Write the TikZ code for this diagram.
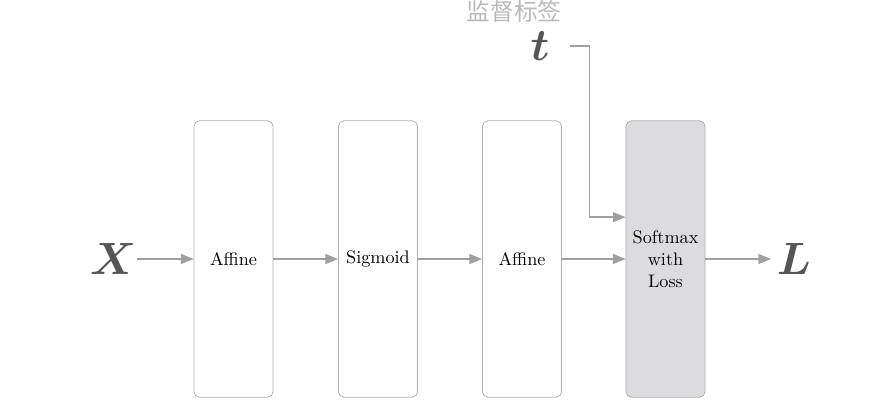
\documentclass[tikz,border=0pt]{standalone}
\usepackage{amsmath,amssymb,bm}
\usepackage{fontspec}
\newfontfamily\cjk{Noto Sans CJK SC}
\usetikzlibrary{positioning,arrows.meta,calc}
\definecolor{boxgray}{RGB}{175,175,175}
\definecolor{arrgray}{RGB}{160,160,162}
\definecolor{smfill}{RGB}{220,220,222}
\definecolor{vargray}{RGB}{85,85,85}
\definecolor{labgray}{RGB}{185,185,185}

\begin{document}
\begin{tikzpicture}[x=0.55pt, y=-0.55pt,
    layer/.style={rectangle, draw=boxgray, rounded corners=3pt, minimum width=43.5pt, minimum height=152pt, inner sep=0pt, align=center, font=\normalsize},
    lossbox/.style={layer, fill=smfill},
    var/.style={text=vargray, inner sep=0pt, font=\fontsize{24}{28}\selectfont},
    flow/.style={-{Triangle[length=7pt,width=5.5pt]}, arrgray, thick}
]
\useasboundingbox (0,0) rectangle (870,418);

% Layers
\node[layer] (aff1) at (233.5,259) {Affine};
\node[layer] (sig) at (378,259) {Sigmoid};
\node[layer] (aff2) at (522,259) {Affine};
\node[lossbox] (sm) at (665.5,259) {Softmax\\with\\Loss};

% Inputs and outputs
\node[var] (x) at (113,259) {$\bm{X}$};
\node[var] (l) at (794,259) {$\bm{L}$};
\node[var] (t) at (540,46) {$\bm{t}$};
\node[text=labgray, font=\cjk\fontsize{13}{15}\selectfont] (tlab) at (514,11) {监督标签};

% Forward flow
\draw[flow] (x) -- (aff1);
\draw[flow] (aff1) -- (sig);
\draw[flow] (sig) -- (aff2);
\draw[flow] (aff2) -- (sm);
\draw[flow] (sm) -- ([xshift=-3pt]l.west);

% Teacher label
\draw[flow] ([xshift=11pt]t.east) -- ++(20,0) |- ([yshift=23pt]sm.west);

\end{tikzpicture}
\end{document}
